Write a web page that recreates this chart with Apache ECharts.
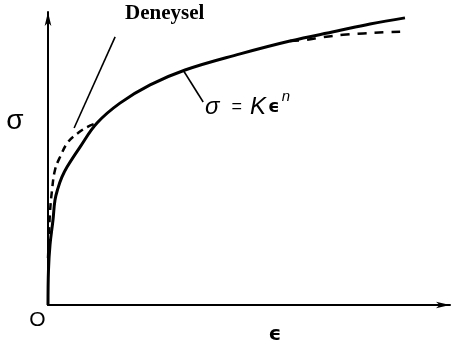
<!DOCTYPE html>
<html>
<head>
<meta charset="utf-8">
<script src="https://cdn.jsdelivr.net/npm/echarts@6/dist/echarts.min.js"></script>
<style>
  html, body { margin: 0; padding: 0; background: #fff; }
  #chart { width: 454px; height: 351px; }
</style>
</head>
<body>
<div id="chart"></div>
<script>
// Strain (ε) on x, stress (σ) on y, both in arbitrary units 0–100.
// Power-law flow curve σ = Kεⁿ
const powerLawCurve = [
  [0, 0], [0.12, 11.9], [0.5, 20.5], [1.24, 29.0], [1.74, 35.8],
  [2.49, 39.9], [3.48, 43.7], [4.73, 47.1], [7.96, 53.9], [12.19, 62.1],
  [17.9, 68.9], [25.4, 75.1], [34.1, 80.2], [47.8, 85.7], [60.2, 90.1],
  [71.9, 93.5], [80.1, 95.9], [88.8, 98.0]
];
// Experimental (Deneysel) curve: low-strain part above the fit
const deneyselLow = [
  [0, 16.0], [0.25, 23.9], [0.5, 31.7], [1.0, 39.2], [1.74, 46.1],
  [2.99, 50.5], [4.98, 55.6], [7.46, 58.7], [9.95, 60.9], [12.19, 62.1]
];
// ...and the high-strain part below the fit
const deneyselHigh = [
  [60.2, 90.1], [63.9, 90.4], [68.4, 91.4], [73.4, 92.2],
  [78.4, 92.7], [83.8, 93.1], [87.6, 93.3]
];
// Leader lines from the labels to the curves
const deneyselPointer = [[16.7, 91.5], [6.5, 60.4]];
const formulaPointer = [[33.6, 80.2], [38.6, 69.3]];

const ink = '#000';
const chart = echarts.init(document.getElementById('chart'), null, { renderer: 'canvas' });

const hiddenAxis = {
  type: 'value', min: 0, max: 100,
  axisTick: { show: false }, axisLabel: { show: false }, splitLine: { show: false }
};

chart.setOption({
  animation: false,
  backgroundColor: '#fff',
  grid: { left: 48, right: 4, top: 12, bottom: 46 },
  xAxis: Object.assign({}, hiddenAxis, {
    axisLine: { show: true, onZero: false, symbol: ['none', 'arrow'], symbolSize: [5, 14],
      lineStyle: { color: ink, width: 2 } }
  }),
  yAxis: Object.assign({}, hiddenAxis, {
    axisLine: { show: true, onZero: false, symbol: ['none', 'arrow'], symbolSize: [5, 14],
      lineStyle: { color: ink, width: 2 } }
  }),
  series: [
    { name: 'Deneysel', type: 'line', data: deneyselLow, smooth: 0.4, showSymbol: false,
      lineStyle: { color: ink, width: 2.5, type: [7, 5] } },
    { name: 'Deneysel', type: 'line', data: deneyselHigh, smooth: 0.4, showSymbol: false,
      lineStyle: { color: ink, width: 2.5, type: [9, 8] } },
    { name: 'σ = Kεⁿ', type: 'line', data: powerLawCurve, smooth: 0.4, showSymbol: false,
      lineStyle: { color: ink, width: 3 } },
    { type: 'line', data: deneyselPointer, showSymbol: false, lineStyle: { color: ink, width: 1.6 } },
    { type: 'line', data: formulaPointer, showSymbol: false, lineStyle: { color: ink, width: 1.6 } }
  ],
  graphic: [
    { type: 'text', left: 125, top: 3,
      style: { text: 'Deneysel', font: 'bold 21px "Liberation Serif"', fill: ink } },
    // σ = Kϵⁿ
    { type: 'text', x: 205, y: 107,
      style: {
        text: '{s|σ}{q|=}{k|K}{e|ϵ}',
        verticalAlign: 'middle', fill: ink,
        rich: {
          s: { font: 'italic 24px "Liberation Sans"', fill: ink, verticalAlign: 'middle' },
          q: { font: '18px "Liberation Sans"', fill: ink, verticalAlign: 'middle', padding: [0, 8, 0, 12] },
          k: { font: 'italic 24px "Liberation Sans"', fill: ink, verticalAlign: 'middle' },
          e: { font: 'bold 18px "DejaVu Sans"', fill: ink, verticalAlign: 'middle', padding: [0, 0, 0, 2] }
        }
      } },
    { type: 'text', x: 286, y: 97,
      style: { text: 'n', font: 'italic 15px "Liberation Sans"', fill: ink, align: 'center', verticalAlign: 'middle' } },
    { type: 'text', x: 15, y: 121,
      style: { text: 'σ', font: '28px "Liberation Sans"', fill: ink, align: 'center', verticalAlign: 'middle' } },
    { type: 'text', x: 37.5, y: 320.5,
      style: { text: 'O', font: '21px "Liberation Sans"', fill: ink, align: 'center', verticalAlign: 'middle' } },
    { type: 'text', x: 275, y: 334.5,
      style: { text: 'ϵ', font: 'bold 20px "DejaVu Sans"', fill: ink, align: 'center', verticalAlign: 'middle' } }
  ]
});
</script>
</body>
</html>
